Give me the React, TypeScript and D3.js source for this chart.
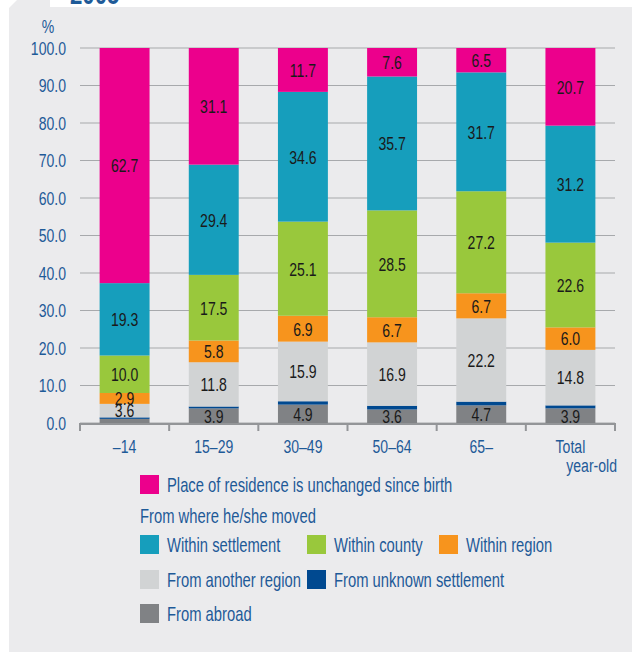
import React from 'react';
import * as d3 from 'd3';

const categories = ['–14', '15–29', '30–49', '50–64', '65–', 'Total'];
const seriesNames = [
  'From abroad',
  'From unknown settlement',
  'From another region',
  'Within region',
  'Within county',
  'Within settlement',
  'Place of residence is unchanged since birth',
];
const fromAbroad = [1.1, 3.9, 4.9, 3.6, 4.7, 3.9];
const fromUnknown = [0.4, 0.5, 0.9, 1.0, 1.0, 0.8];
const fromAnotherRegion = [3.6, 11.8, 15.9, 16.9, 22.2, 14.8];
const withinRegion = [2.9, 5.8, 6.9, 6.7, 6.7, 6.0];
const withinCounty = [10.0, 17.5, 25.1, 28.5, 27.2, 22.6];
const withinSettlement = [19.3, 29.4, 34.6, 35.7, 31.7, 31.2];
const unchanged = [62.7, 31.1, 11.7, 7.6, 6.5, 20.7];
const yTicks = [0, 10, 20, 30, 40, 50, 60, 70, 80, 90, 100];

const colors = ['#808285', '#004990', '#d1d3d4', '#f7941d', '#99c83c', '#169ebc', '#ec008c'];
const BLUE = '#1e5a98';
const FONT = '"Liberation Sans", Arial, sans-serif';
const SX = 0.74; // squeeze to look like a condensed face

// condensed text helper
function T(props: { x: number; y: number; size: number; fill: string; anchor?: string; children: any; dy?: string }) {
  return (
    <text
      transform={`translate(${props.x},${props.y}) scale(${SX},1)`}
      fontSize={props.size}
      fill={props.fill}
      textAnchor={props.anchor || 'start'}
      dy={props.dy}
    >
      {props.children}
    </text>
  );
}

export default function App() {
  const width = 632;
  const height = 652;
  const x0 = 80;
  const x1 = 615;
  const yTop = 48;
  const yBottom = 423;

  const rows = categories.map((c, i) => ({
    cat: c,
    s0: fromAbroad[i],
    s1: fromUnknown[i],
    s2: fromAnotherRegion[i],
    s3: withinRegion[i],
    s4: withinCounty[i],
    s5: withinSettlement[i],
    s6: unchanged[i],
  }));
  const keys = ['s0', 's1', 's2', 's3', 's4', 's5', 's6'];
  const stacked = d3.stack<any>().keys(keys)(rows);

  const x = d3.scaleBand().domain(categories).range([x0, x1]).paddingInner(0.44).paddingOuter(0.22);
  const y = d3.scaleLinear().domain([0, 100]).range([yBottom, yTop]);
  const step = x.step();
  const fmt = d3.format('.1f');

  const legendRows: { idx: number; x: number; y: number }[] = [
    { idx: 6, x: 140, y: 475 },
    { idx: 5, x: 140, y: 535 },
    { idx: 4, x: 307, y: 535 },
    { idx: 3, x: 439, y: 535 },
    { idx: 2, x: 140, y: 570 },
    { idx: 1, x: 307, y: 570 },
    { idx: 0, x: 140, y: 604 },
  ];

  return (
    <svg width={width} height={height} style={{ position: 'absolute', left: 0, top: 0 }} fontFamily={FONT}>
      <rect width={width} height={height} fill="#fff" />
      <polygon points="9,8 17,0 50,0 50,7 632,7 632,652 9,652" fill="#ebebed" />
      <clipPath id="titleClip">
        <rect x={50} y={0} width={200} height={6} />
      </clipPath>
      <g clipPath="url(#titleClip)">
        <T x={70} y={4} size={30} fill={BLUE}>
          <tspan fontWeight="bold">2005</tspan>
        </T>
      </g>

      {/* grid */}
      {yTicks.map((t) => (
        <line key={t} x1={x0} x2={x1} y1={y(t)} y2={y(t)} stroke="#a7a9ac" strokeWidth={1.2} />
      ))}
      {yTicks.map((t) => (
        <T key={'l' + t} x={66} y={y(t)} dy="0.36em" anchor="end" size={19} fill={BLUE}>
          {fmt(t)}
        </T>
      ))}
      <T x={48} y={33} anchor="middle" size={19} fill={BLUE}>%</T>

      {/* bars */}
      {stacked.map((layer, li) => (
        <g key={layer.key} fill={colors[li]}>
          {layer.map((d, i) => (
            <rect
              key={i}
              x={x(categories[i])}
              width={x.bandwidth()}
              y={y(d[1])}
              height={y(d[0]) - y(d[1])}
            />
          ))}
        </g>
      ))}
      {stacked.map((layer, li) =>
        li === 1
          ? null
          : layer.map((d, i) => {
              const v = d[1] - d[0];
              if (v < 2) return null;
              return (
                <T
                  key={layer.key + i}
                  x={(x(categories[i]) as number) + x.bandwidth() / 2}
                  y={(y(d[0]) + y(d[1])) / 2}
                  dy="0.36em"
                  anchor="middle"
                  size={19}
                  fill="#1a1a1a"
                >
                  {fmt(v)}
                </T>
              );
            })
      )}

      {/* x axis */}
      <line x1={x0} x2={x1} y1={yBottom + 1} y2={yBottom + 1} stroke="#939598" strokeWidth={2} />
      {d3.range(categories.length + 1).map((i) => (
        <line key={'t' + i} x1={x0 + i * step} x2={x0 + i * step} y1={yBottom} y2={yBottom + 8} stroke="#939598" strokeWidth={2} />
      ))}
      {categories.map((c) => (
        <T key={c} x={(x(c) as number) + x.bandwidth() / 2} y={453} anchor="middle" size={19} fill={BLUE}>
          {c}
        </T>
      ))}
      <T x={617} y={472} anchor="end" size={19} fill={BLUE}>year-old</T>

      {/* legend */}
      {legendRows.map((r) => (
        <g key={r.idx}>
          <rect x={r.x} y={r.y} width={19} height={19} fill={colors[r.idx]} />
          <T x={r.x + 27} y={r.y + 17} size={20} fill={BLUE}>
            {seriesNames[r.idx]}
          </T>
        </g>
      ))}
      <T x={140} y={523} size={20} fill={BLUE}>From where he/she moved</T>
    </svg>
  );
}
